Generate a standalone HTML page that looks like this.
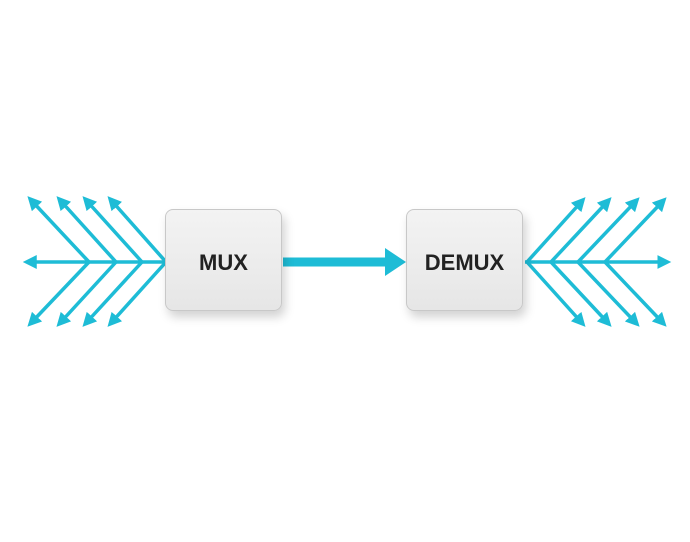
<!DOCTYPE html>
<html><head><style>
body{margin:0;background:#fff;width:690px;height:542px;overflow:hidden;font-family:"Liberation Sans",sans-serif}
.box{position:absolute;width:117px;height:102px;background:linear-gradient(#f3f3f3,#e6e6e6);border:1px solid #c8c8c8;border-radius:8px;box-shadow:3px 6px 10px rgba(0,0,0,0.18);display:flex;align-items:center;justify-content:center;font-weight:bold;font-size:22px;color:#222;padding-top:5px;box-sizing:border-box}
</style></head><body>
<svg width="690" height="542" style="position:absolute;left:0;top:0">
<defs>
<marker id="a" markerWidth="4" markerHeight="4" refX="2.5" refY="2" orient="auto" markerUnits="strokeWidth"><path d="M0,0 L4,2 L0,4 Z" fill="#1ebcd6"/></marker>
</defs>
<g stroke="#1ebcd6" stroke-width="3.5" fill="none" marker-end="url(#a)">
<line x1="166" y1="262" x2="28" y2="262"/>
<line x1="166" y1="262" x2="111" y2="200"/>
<line x1="142" y1="262" x2="86" y2="200"/>
<line x1="116" y1="262" x2="60" y2="200"/>
<line x1="89" y1="262" x2="31" y2="200"/>
<line x1="166" y1="262" x2="111" y2="323"/>
<line x1="142" y1="262" x2="86" y2="323"/>
<line x1="116" y1="262" x2="60" y2="323"/>
<line x1="89" y1="262" x2="31" y2="323"/>
<line x1="525" y1="262" x2="666" y2="262"/>
<line x1="527" y1="262" x2="582" y2="201"/>
<line x1="551" y1="262" x2="608" y2="201"/>
<line x1="578" y1="262" x2="636" y2="201"/>
<line x1="605" y1="262" x2="663" y2="201"/>
<line x1="527" y1="262" x2="582" y2="323"/>
<line x1="551" y1="262" x2="608" y2="323"/>
<line x1="578" y1="262" x2="636" y2="323"/>
<line x1="605" y1="262" x2="663" y2="323"/>
</g>
<line x1="283" y1="262" x2="388" y2="262" stroke="#1ebcd6" stroke-width="9"/>
<path d="M385,248 L406,262 L385,276 Z" fill="#1ebcd6"/>
</svg>
<div class="box" style="left:165px;top:209px">MUX</div>
<div class="box" style="left:406px;top:209px">DEMUX</div>
</body></html>
